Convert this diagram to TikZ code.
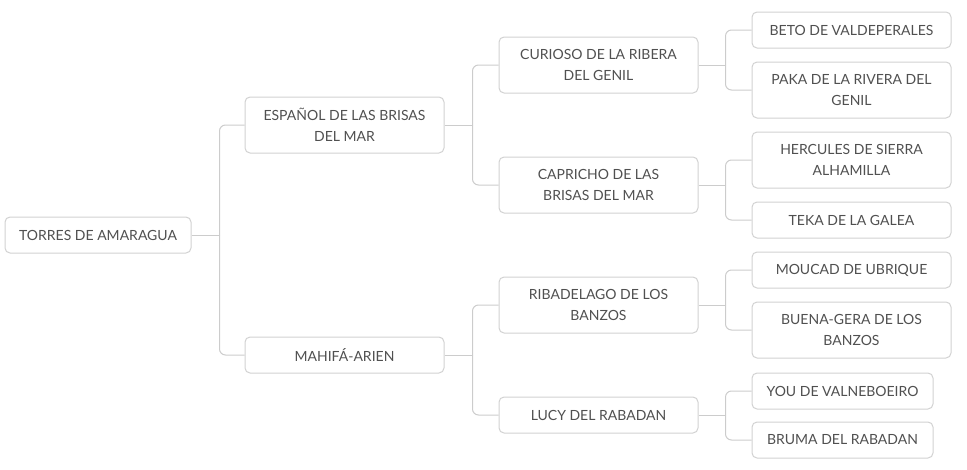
\documentclass[tikz,border=0pt]{standalone}
\usepackage{fontspec}
\setmainfont{Lato}
\usetikzlibrary{calc}
\definecolor{txt}{HTML}{505050}
\definecolor{edge}{HTML}{D2D2D2}
\definecolor{wire}{HTML}{CCCCCC}
\begin{document}
\begin{tikzpicture}[x=1pt,y=-1pt,
  box/.style={draw=edge,line width=1pt,rounded corners=5pt,fill=white,text=txt,
    font=\fontsize{14}{21}\selectfont,align=center,inner sep=0pt,anchor=center,
    minimum width=199pt,minimum height=36pt},
  tall/.style={minimum height=56pt},
  wirel/.style={draw=wire,line width=1pt},
  elbow/.style={draw=wire,line width=1pt,rounded corners=6pt}]
\useasboundingbox (0,0) rectangle (967,469);
% nodes
\node[box,minimum width=186pt] (root) at (98,235) {TORRES DE AMARAGUA};
\node[box,tall] (esp) at (344.5,125) {ESPAÑOL DE LAS BRISAS\\DEL MAR};
\node[box] (mah) at (344.5,355) {MAHIFÁ-ARIEN};
\node[box,tall] (cur) at (598.5,65) {CURIOSO DE LA RIBERA\\DEL GENIL};
\node[box,tall] (cap) at (598.5,185) {CAPRICHO DE LAS\\BRISAS DEL MAR};
\node[box,tall] (rib) at (598.5,305) {RIBADELAGO DE LOS\\BANZOS};
\node[box] (lucy) at (598.5,415) {LUCY DEL RABADAN};
\node[box] (beto) at (851.5,30) {BETO DE VALDEPERALES};
\node[box,tall] (paka) at (851.5,90) {PAKA DE LA RIVERA DEL\\GENIL};
\node[box,tall] (herc) at (851.5,160) {HERCULES DE SIERRA\\ALHAMILLA};
\node[box] (teka) at (851.5,220) {TEKA DE LA GALEA};
\node[box] (mouc) at (851.5,270) {MOUCAD DE UBRIQUE};
\node[box,tall] (buena) at (851.5,330) {BUENA-GERA DE LOS\\BANZOS};
\node[box,minimum width=181pt] (you) at (842.5,391) {YOU DE VALNEBOEIRO};
\node[box,minimum width=181pt] (bruma) at (842.5,440) {BRUMA DEL RABADAN};
% junctions
\coordinate (jr) at ($(root.east)+(28,0)$);
\coordinate (je) at ($(esp.east)+(28,0)$);
\coordinate (jm) at ($(mah.east)+(28,0)$);
\coordinate (jc) at ($(cur.east)+(27,0)$);
\coordinate (jk) at ($(cap.east)+(27,0)$);
\coordinate (jb) at ($(rib.east)+(27,0)$);
\coordinate (jl) at ($(lucy.east)+(27,0)$);
% connectors
\draw[wirel] (root.east) -- (jr);
\draw[elbow] (jr) |- (esp.west);
\draw[elbow] (jr) |- (mah.west);
\draw[wirel] (esp.east) -- (je);
\draw[elbow] (je) |- (cur.west);
\draw[elbow] (je) |- (cap.west);
\draw[wirel] (mah.east) -- (jm);
\draw[elbow] (jm) |- (rib.west);
\draw[elbow] (jm) |- (lucy.west);
\draw[wirel] (cur.east) -- (jc);
\draw[elbow] (jc) |- (beto.west);
\draw[elbow] (jc) |- (paka.west);
\draw[wirel] (cap.east) -- (jk);
\draw[elbow] (jk) |- (herc.west);
\draw[elbow] (jk) |- (teka.west);
\draw[wirel] (rib.east) -- (jb);
\draw[elbow] (jb) |- (mouc.west);
\draw[elbow] (jb) |- (buena.west);
\draw[wirel] (lucy.east) -- (jl);
\draw[elbow] (jl) |- (you.west);
\draw[elbow] (jl) |- (bruma.west);
\end{tikzpicture}
\end{document}
